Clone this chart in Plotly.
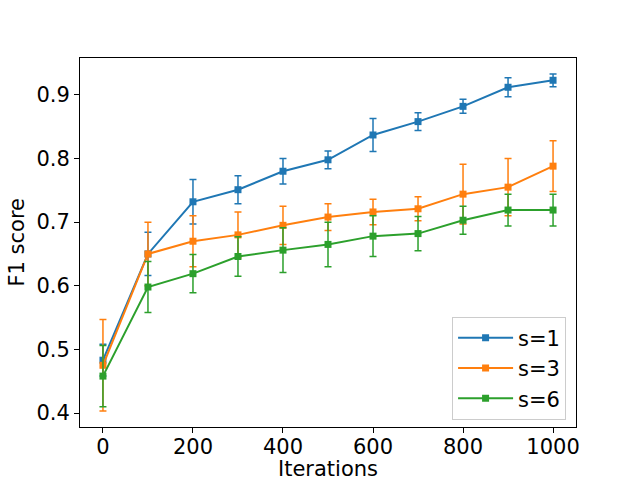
import plotly.graph_objects as go

iterations = [0, 100, 200, 300, 400, 500, 600, 700, 800, 900, 1000]

s1_mean = [0.483, 0.650, 0.732, 0.751, 0.780, 0.798, 0.837, 0.858, 0.882, 0.912, 0.923]
s1_err = [0.025, 0.034, 0.035, 0.022, 0.020, 0.014, 0.026, 0.014, 0.011, 0.015, 0.010]

s3_mean = [0.475, 0.650, 0.670, 0.680, 0.695, 0.708, 0.716, 0.721, 0.744, 0.755, 0.788]
s3_err = [0.072, 0.050, 0.040, 0.036, 0.030, 0.021, 0.020, 0.019, 0.047, 0.045, 0.040]

s6_mean = [0.458, 0.598, 0.619, 0.646, 0.656, 0.665, 0.678, 0.682, 0.703, 0.719, 0.719]
s6_err = [0.048, 0.040, 0.030, 0.031, 0.035, 0.035, 0.032, 0.027, 0.022, 0.025, 0.025]

series = [
    ("s=1", s1_mean, s1_err, "#1f77b4"),
    ("s=3", s3_mean, s3_err, "#ff7f0e"),
    ("s=6", s6_mean, s6_err, "#2ca02c"),
]

fig = go.Figure()
for name, mean, err, color in series:
    fig.add_trace(go.Scatter(
        x=iterations, y=mean, name=name,
        mode="lines+markers",
        line=dict(color=color, width=2),
        marker=dict(symbol="square", size=7, color=color),
        error_y=dict(type="data", array=err, visible=True,
                     color=color, thickness=1.5, width=3.5),
    ))

axis_style = dict(
    showline=True, linecolor="black", linewidth=1, mirror=True,
    ticks="outside", ticklen=5, tickcolor="black",
    showgrid=False, zeroline=False, automargin=False,
    tickfont=dict(size=21, color="black"),
)

fig.update_layout(
    width=640, height=480,
    paper_bgcolor="white", plot_bgcolor="white",
    font=dict(family="DejaVu Sans", color="black"),
    margin=dict(l=80, r=64, t=58, b=53),
    xaxis=dict(range=[-51, 1051], tickvals=[0, 200, 400, 600, 800, 1000],
               ticklabelstandoff=-4, **axis_style),
    yaxis=dict(range=[0.378, 0.958], tickvals=[0.4, 0.5, 0.6, 0.7, 0.8, 0.9],
               tickformat=".1f", **axis_style),
    legend=dict(x=0.98, y=0.02, xanchor="right", yanchor="bottom",
                bgcolor="white", bordercolor="#cccccc", borderwidth=1,
                itemwidth=55, font=dict(size=21)),
    showlegend=True,
)

# axis titles placed in pixels, converted to paper coords of the plot area
fig.add_annotation(text="Iterations", xref="paper", yref="paper",
                   x=0.5, y=-(469 - 427) / (427 - 58), yanchor="middle",
                   showarrow=False, font=dict(size=21))
fig.add_annotation(text="F1 score", xref="paper", yref="paper",
                   x=-(80 - 16) / (576 - 80), y=0.5, xanchor="center",
                   textangle=-90, showarrow=False, font=dict(size=21))

# drop the page's default body margin so the figure sits at the top-left corner
fig.write_html("out.html", config={"displayModeBar": False},
               post_script="document.body.style.margin='0';")
